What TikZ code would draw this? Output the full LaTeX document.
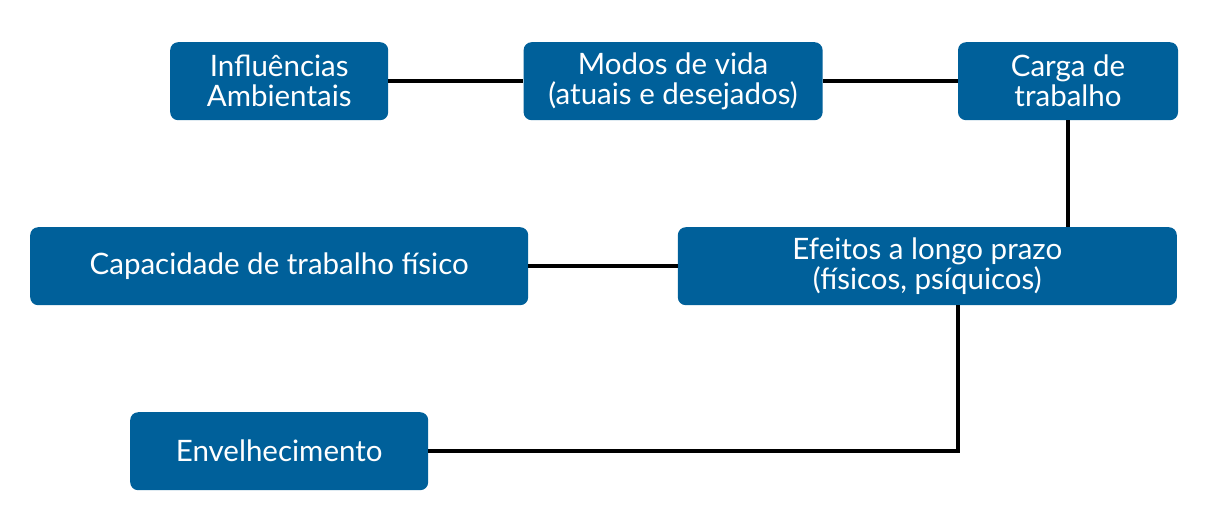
\documentclass[tikz,border=0pt]{standalone}
\usepackage{fontspec}
\setmainfont{Lato}
\usetikzlibrary{positioning}
\definecolor{boxblue}{HTML}{00609A}
\tikzset{box/.style={fill=boxblue,rounded corners=8pt,minimum height=78pt,
 align=center,text=white,font=\fontsize{29.5}{30}\selectfont,inner sep=4pt},
 link/.style={line width=3.5pt,draw=black}}

\begin{document}
\begin{tikzpicture}[x=1pt,y=-1pt]
\useasboundingbox (0,0) rectangle (1206,531);
\node[box,minimum width=218pt,anchor=north west] (infl) at (170,42) {Influências\\Ambientais};
\node[box,minimum width=299pt,right=135pt of infl] (modos) {Modos de vida\\(atuais e desejados)};
\node[box,minimum width=220pt,right=135pt of modos] (carga) {Carga de\\trabalho};
\node[box,minimum width=499pt,anchor=north east] (efeitos) at (1177,227) {Efeitos a longo prazo\\(físicos, psíquicos)};
\node[box,minimum width=498pt,anchor=north west] (capac) at (30,227) {Capacidade de trabalho físico};
\node[box,minimum width=298pt,anchor=north west] (envelh) at (130,412) {Envelhecimento};

\draw[link] (infl) -- (modos);
\draw[link] (modos) -- (carga);
\draw[link] (carga) -- (efeitos.north -| carga.south);
\draw[link] (capac) -- (efeitos);
\draw[link] (efeitos.south -| carga.west) |- (envelh.east);
\end{tikzpicture}
\end{document}
